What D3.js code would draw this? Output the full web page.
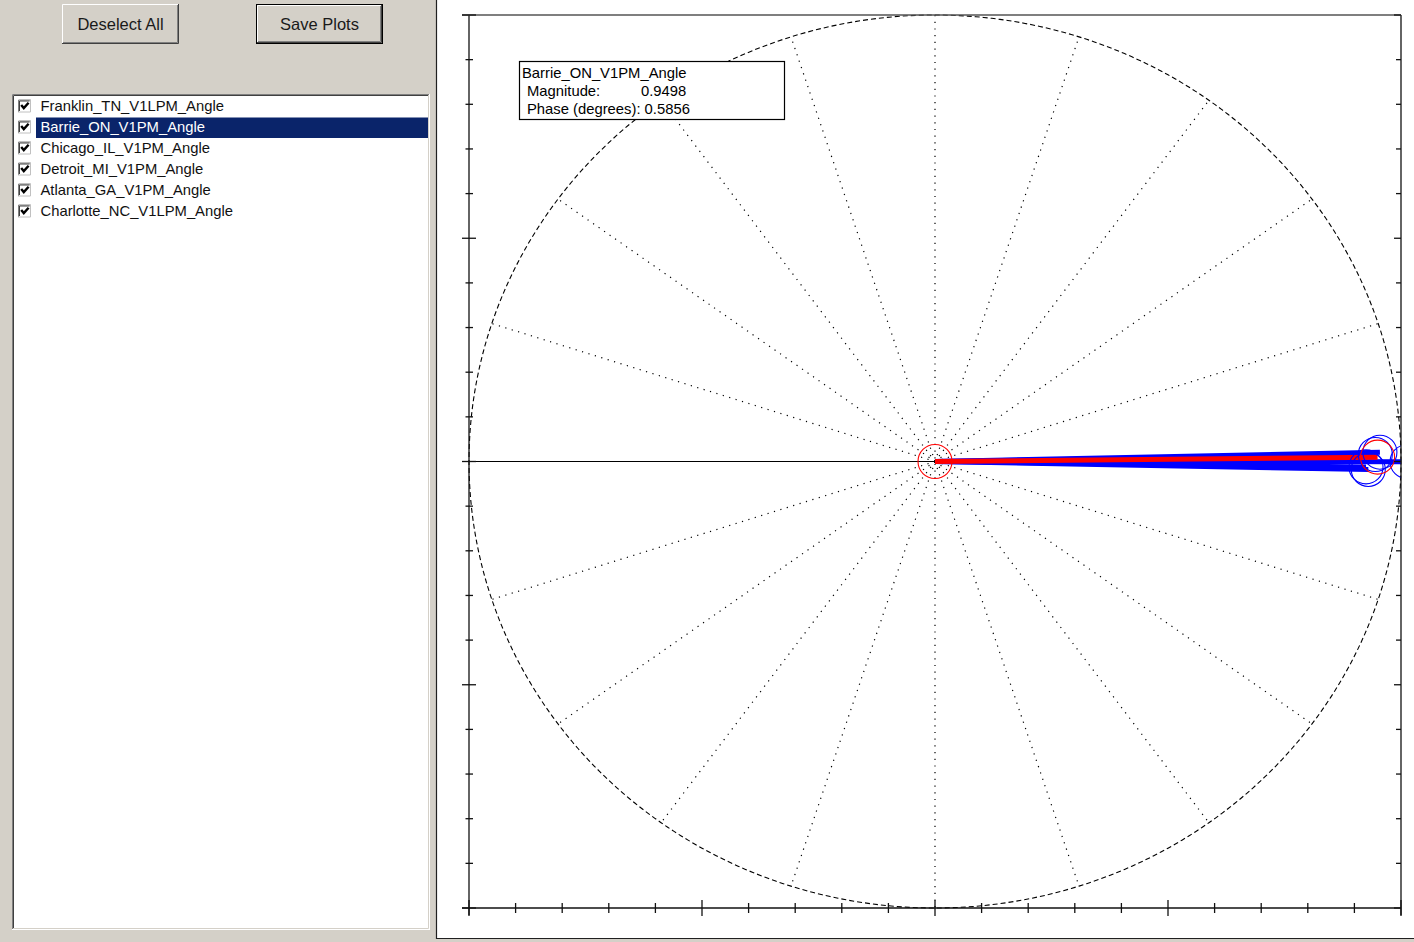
<!DOCTYPE html>
<html>
<head>
<meta charset="utf-8">
<script src="https://cdn.jsdelivr.net/npm/d3@7/dist/d3.min.js"></script>
<style>
  html, body { margin: 0; padding: 0; background: #d4d0c8; }
  svg { display: block; }
  text { font-family: "Liberation Sans", Arial, sans-serif; }
</style>
</head>
<body>
<svg id="app" width="1414" height="942"></svg>
<script>
// ---- phasor data (one entry per signal) ----
const seriesNames = [
  "Franklin_TN_V1LPM_Angle",
  "Barrie_ON_V1PM_Angle",
  "Chicago_IL_V1PM_Angle",
  "Detroit_MI_V1PM_Angle",
  "Atlanta_GA_V1PM_Angle",
  "Charlotte_NC_V1LPM_Angle"
];
const magnitudes = [1.013, 0.9498, 0.955, 0.945, 0.930, 0.925];
const phasesDeg  = [-0.02, 0.5856, 1.25, 0.95, -1.10, -0.75];
const checkedFlags = [true, true, true, true, true, true];
const selectedIndex = 1;

// ---- polar grid / axis definitions ----
const spokeAngles = [18, 36, 54, 72, 108, 126, 144, 162, 198, 216, 234, 252, 288, 306, 324, 342];
const majorTicks = [-1, -0.5, 0, 0.5, 1];
const minorTicks = [-0.9, -0.8, -0.7, -0.6, -0.4, -0.3, -0.2, -0.1,
                    0.1, 0.2, 0.3, 0.4, 0.6, 0.7, 0.8, 0.9];

const svg = d3.select("#app");
const FONT = 14.8;
const BTN_FONT = 16.5;

// ================= left control panel =================
const panel = svg.append("g");
panel.append("rect").attr("x", 0).attr("y", 0).attr("width", 436).attr("height", 942).attr("fill", "#d4d0c8");

function button(x, y, w, h, label, isDefault) {
  const g = panel.append("g");
  let x0 = x, y0 = y, w0 = w, h0 = h;
  if (isDefault) {
    g.append("rect").attr("x", x + 0.5).attr("y", y + 0.5).attr("width", w - 1).attr("height", h - 1)
      .attr("fill", "none").attr("stroke", "#000");
    x0 = x + 1; y0 = y + 1; w0 = w - 2; h0 = h - 2;
  }
  g.append("rect").attr("x", x0).attr("y", y0).attr("width", w0).attr("height", h0).attr("fill", "#d4d0c8");
  g.append("path").attr("d", `M${x0 + 0.5},${y0 + h0 - 1}V${y0 + 0.5}H${x0 + w0 - 1}`).attr("stroke", "#ffffff").attr("fill", "none");
  g.append("path").attr("d", `M${x0},${y0 + h0 - 0.5}H${x0 + w0 - 0.5}V${y0}`).attr("stroke", "#404040").attr("fill", "none");
  g.append("path").attr("d", `M${x0 + 1},${y0 + h0 - 1.5}H${x0 + w0 - 1.5}V${y0 + 1}`).attr("stroke", "#808080").attr("fill", "none");
  g.append("text").attr("x", x0 + w0 / 2).attr("y", 30)
    .attr("text-anchor", "middle").attr("font-size", BTN_FONT).attr("fill", "#1a1a1a").text(label);
}
button(62, 4, 117, 40, "Deselect All", false);
button(256, 4, 127, 40, "Save Plots", true);

// list box (sunken)
const lb = { x: 12, y: 94, w: 418, h: 836 };
panel.append("rect").attr("x", lb.x).attr("y", lb.y).attr("width", lb.w).attr("height", lb.h).attr("fill", "#ffffff");
panel.append("path").attr("d", `M${lb.x + 0.5},${lb.y + lb.h - 1}V${lb.y + 0.5}H${lb.x + lb.w - 1}`).attr("stroke", "#808080").attr("fill", "none");
panel.append("path").attr("d", `M${lb.x + 1.5},${lb.y + lb.h - 2}V${lb.y + 1.5}H${lb.x + lb.w - 2}`).attr("stroke", "#404040").attr("fill", "none");
panel.append("path").attr("d", `M${lb.x},${lb.y + lb.h - 0.5}H${lb.x + lb.w - 0.5}V${lb.y}`).attr("stroke", "#ffffff").attr("fill", "none");
panel.append("path").attr("d", `M${lb.x + 1},${lb.y + lb.h - 1.5}H${lb.x + lb.w - 1.5}V${lb.y + 1}`).attr("stroke", "#d4d0c8").attr("fill", "none");

const rowY = d3.scaleBand().domain(d3.range(seriesNames.length)).range([95.5, 95.5 + 21 * seriesNames.length]);
const rows = panel.selectAll("g.row").data(seriesNames).join("g").attr("class", "row")
  .attr("transform", (d, i) => `translate(0,${rowY(i)})`);

rows.filter((d, i) => i === selectedIndex).append("rect")
  .attr("x", 36).attr("y", 1).attr("width", 392).attr("height", 20.5).attr("fill", "#0a246a");

// check boxes
rows.append("rect").attr("x", 18).attr("y", 4).attr("width", 13).attr("height", 13).attr("fill", "#ffffff");
rows.append("path").attr("d", "M18.5,16.5V4.5H30.5").attr("stroke", "#808080").attr("fill", "none");
rows.append("path").attr("d", "M19.5,15.5V5.5H29.5").attr("stroke", "#404040").attr("fill", "none");
rows.append("path").attr("d", "M18,16.5H30.5V4").attr("stroke", "#c0c0c0").attr("fill", "none");
rows.filter((d, i) => checkedFlags[i]).append("path")
  .attr("d", "M21.2,9.5 L23.8,12.6 L28.6,7.2").attr("stroke", "#000").attr("stroke-width", 2.4).attr("fill", "none");

rows.append("text").attr("x", 40.5).attr("y", 15.5).attr("font-size", FONT)
  .attr("fill", (d, i) => i === selectedIndex ? "#ffffff" : "#111111").text(d => d);

// ================= plot panel =================
svg.append("rect").attr("x", 437).attr("y", 0).attr("width", 977).attr("height", 938).attr("fill", "#ffffff");
svg.append("path").attr("d", "M436.5,0V938.5H1414").attr("stroke", "#202020").attr("stroke-width", 1.2).attr("fill", "none");

const x = d3.scaleLinear().domain([-1, 1]).range([469, 1401]);
const y = d3.scaleLinear().domain([-1, 1]).range([908, 15]);

const plot = svg.append("g");
svg.append("defs").append("clipPath").attr("id", "box")
  .append("rect").attr("x", x(-1)).attr("y", y(1)).attr("width", x(1) - x(-1)).attr("height", y(-1) - y(1));

// unit circle (dashed)
const circlePts = d3.range(0, 361, 1).map(a => [Math.cos(a * Math.PI / 180), Math.sin(a * Math.PI / 180)]);
const line = d3.line().x(d => x(d[0])).y(d => y(d[1]));
plot.append("path").attr("d", line(circlePts)).attr("fill", "none")
  .attr("stroke", "#000").attr("stroke-width", 1.1).attr("stroke-dasharray", "5,3");

// radial spokes (dotted)
plot.selectAll("line.spoke").data(spokeAngles).join("line").attr("class", "spoke")
  .attr("x1", x(0)).attr("y1", y(0))
  .attr("x2", a => x(Math.cos(a * Math.PI / 180)))
  .attr("y2", a => y(Math.sin(a * Math.PI / 180)))
  .attr("stroke", "#000").attr("stroke-width", 1.2).attr("stroke-dasharray", "1.2,5.5");

// vertical dotted diameter
plot.append("line").attr("x1", x(0)).attr("x2", x(0)).attr("y1", y(1)).attr("y2", y(-1))
  .attr("stroke", "#000").attr("stroke-width", 1.2).attr("stroke-dasharray", "1.2,5.5");

// horizontal solid diameter
plot.append("line").attr("x1", x(-1) - 7).attr("x2", x(1)).attr("y1", y(0)).attr("y2", y(0))
  .attr("stroke", "#000").attr("stroke-width", 1.2);

// phasors
const phasors = seriesNames.map((name, i) => {
  const r = magnitudes[i], th = phasesDeg[i] * Math.PI / 180;
  return { name, i, re: r * Math.cos(th), im: r * Math.sin(th), selected: i === selectedIndex };
}).filter(d => checkedFlags[d.i]);

const ph = plot.append("g").attr("clip-path", "url(#box)");
const ordered = phasors.filter(d => !d.selected).concat(phasors.filter(d => d.selected));
ph.selectAll("line.ph").data(ordered).join("line").attr("class", "ph")
  .attr("x1", x(0)).attr("y1", y(0))
  .attr("x2", d => x(d.re)).attr("y2", d => y(d.im))
  .attr("stroke", d => d.selected ? "#ff0000" : "#0000ff").attr("stroke-width", 5);
ph.selectAll("circle.tip").data(ordered).join("circle").attr("class", "tip")
  .attr("cx", d => x(d.re)).attr("cy", d => y(d.im)).attr("r", 17)
  .attr("fill", "none").attr("stroke", d => d.selected ? "#ff0000" : "#0000ff").attr("stroke-width", 1.1);
ph.append("circle").attr("cx", x(0)).attr("cy", y(0)).attr("r", 17)
  .attr("fill", "none").attr("stroke", "#ff0000").attr("stroke-width", 1.1);

// axes frame
const axisG = svg.append("g").attr("stroke", "#111").attr("stroke-width", 1.3);
axisG.append("line").attr("x1", x(-1)).attr("x2", x(-1)).attr("y1", y(1)).attr("y2", y(-1) + 7);
axisG.append("line").attr("x1", x(-1) - 7).attr("x2", x(1)).attr("y1", y(-1)).attr("y2", y(-1));
axisG.append("line").attr("x1", x(1)).attr("x2", x(1)).attr("y1", y(1)).attr("y2", y(-1) + 7);
axisG.append("line").attr("x1", x(-1) - 7).attr("x2", x(1)).attr("y1", y(1)).attr("y2", y(1)).attr("stroke", "#555");

// left axis ticks
axisG.selectAll("line.ly").data(majorTicks.concat(minorTicks)).join("line").attr("class", "ly")
  .attr("x1", v => x(-1) - (majorTicks.includes(v) ? 7 : 3.5))
  .attr("x2", v => x(-1) + (majorTicks.includes(v) ? 7 : 4))
  .attr("y1", v => y(v)).attr("y2", v => y(v));
// right axis ticks (inward)
axisG.selectAll("line.ry").data(majorTicks.concat(minorTicks)).join("line").attr("class", "ry")
  .attr("x1", v => x(1) - (majorTicks.includes(v) ? 7 : 5)).attr("x2", x(1))
  .attr("y1", v => y(v)).attr("y2", v => y(v));
// bottom axis ticks
axisG.selectAll("line.bx").data(majorTicks.concat(minorTicks)).join("line").attr("class", "bx")
  .attr("x1", v => x(v)).attr("x2", v => x(v))
  .attr("y1", v => y(-1) - (majorTicks.includes(v) ? 8 : 5))
  .attr("y2", v => y(-1) + (majorTicks.includes(v) ? 8 : 5));

// data tip for the selected phasor
const sel = phasors.find(d => d.selected);
const tip = svg.append("g").attr("transform", "translate(519,61)");
tip.append("rect").attr("x", 0.5).attr("y", 0.5).attr("width", 265).attr("height", 58)
  .attr("fill", "#ffffff").attr("stroke", "#000").attr("stroke-width", 1.2);
tip.append("text").attr("x", 3).attr("y", 17).attr("font-size", FONT).text(sel.name);
tip.append("text").attr("x", 8).attr("y", 35).attr("font-size", FONT).text("Magnitude:");
tip.append("text").attr("x", 122).attr("y", 35).attr("font-size", FONT).text(magnitudes[selectedIndex].toFixed(4));
tip.append("text").attr("x", 8).attr("y", 53).attr("font-size", FONT)
  .text("Phase (degrees): " + phasesDeg[selectedIndex].toFixed(4));
</script>
</body>
</html>
